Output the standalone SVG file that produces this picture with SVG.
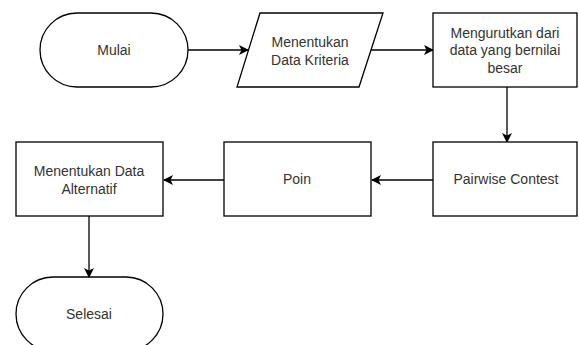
<svg xmlns="http://www.w3.org/2000/svg" width="579" height="345" viewBox="0 0 579 345">
  <style>
    .shape { fill: #ffffff; stroke: #000000; stroke-width: 1.3; }
    .edge { fill: none; stroke: #000000; stroke-width: 1.3; }
    .label { font-family: "Liberation Sans", Arial, sans-serif; font-size: 14px; fill: #333333; text-anchor: middle; dominant-baseline: central; }
  </style>
  <defs>
    <marker id="arrow" viewBox="0 0 10 10" refX="9" refY="5" markerWidth="10" markerHeight="10" markerUnits="userSpaceOnUse" orient="auto">
      <path d="M0,0 L10,5 L0,10 L2.5,5 Z" fill="#000000"/>
    </marker>
  </defs>
  <rect width="579" height="345" fill="#ffffff"/>

  <g id="connectors">
    <line class="edge" x1="188" y1="50" x2="248" y2="50" marker-end="url(#arrow)"/>
    <line class="edge" x1="371" y1="50" x2="433" y2="50" marker-end="url(#arrow)"/>
    <line class="edge" x1="507" y1="87" x2="507" y2="142" marker-end="url(#arrow)"/>
    <line class="edge" x1="433" y1="180" x2="372" y2="180" marker-end="url(#arrow)"/>
    <line class="edge" x1="224" y1="180" x2="164" y2="180" marker-end="url(#arrow)"/>
    <line class="edge" x1="89" y1="216" x2="89" y2="277" marker-end="url(#arrow)"/>
  </g>

  <g id="mulai">
    <rect class="shape" x="40" y="13" width="148" height="74" rx="37" ry="37"/>
    <text class="label" x="114" y="50">Mulai</text>
  </g>

  <g id="data-kriteria">
    <polygon class="shape" points="260,13 383,13 359,87 237,87"/>
    <text class="label" x="310" y="42">Menentukan</text>
    <text class="label" x="310" y="60">Data Kriteria</text>
  </g>

  <g id="mengurutkan">
    <rect class="shape" x="433" y="13" width="144" height="74"/>
    <text class="label" x="505" y="33">Mengurutkan dari</text>
    <text class="label" x="505" y="50">data yang bernilai</text>
    <text class="label" x="505" y="68">besar</text>
  </g>

  <g id="pairwise">
    <rect class="shape" x="433" y="142" width="144" height="74"/>
    <text class="label" x="506" y="179">Pairwise Contest</text>
  </g>

  <g id="poin">
    <rect class="shape" x="224" y="142" width="147" height="74"/>
    <text class="label" x="297" y="179">Poin</text>
  </g>

  <g id="data-alternatif">
    <rect class="shape" x="16" y="142" width="147" height="74"/>
    <text class="label" x="89" y="171">Menentukan Data</text>
    <text class="label" x="89" y="189">Alternatif</text>
  </g>

  <g id="selesai">
    <rect class="shape" x="16" y="277" width="147" height="74" rx="37" ry="37"/>
    <text class="label" x="89" y="314">Selesai</text>
  </g>
</svg>
